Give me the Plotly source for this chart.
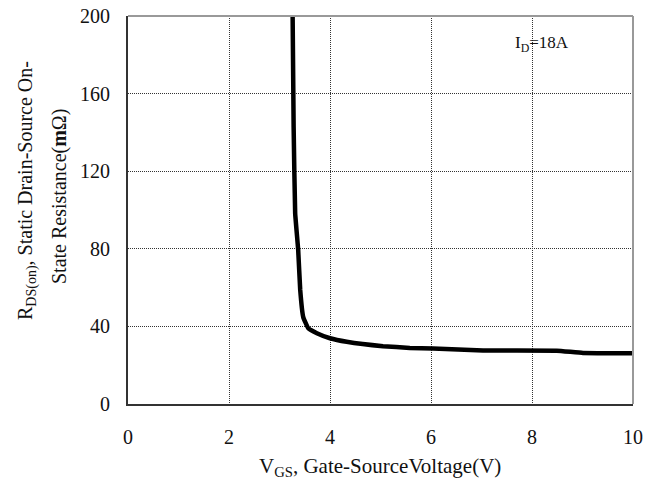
import plotly.graph_objects as go

vgs = [3.26, 3.28, 3.31, 3.37, 3.41, 3.47, 3.57, 3.74, 4.0, 4.33, 5.05, 5.58, 6.04, 7.03, 8.49, 9.01, 10.0]
rds = [200, 142.8, 98.4, 79.4, 58.8, 44.8, 39.0, 36.5, 33.9, 32.1, 29.8, 28.9, 28.6, 27.6, 27.5, 26.3, 26.2]
x_ticks = [0, 2, 4, 6, 8, 10]
y_ticks = [0, 40, 80, 120, 160, 200]

serif = "Liberation Serif, DejaVu Serif, serif"

L, R, T, B = 128, 12, 16, 75
W, H = 645, 479
pw, ph = W - L - R, H - T - B

def px(xp):
    return (xp - L) / pw

def py(yp):
    return (H - B - yp) / ph

fig = go.Figure()
fig.add_trace(go.Scatter(x=vgs, y=rds, mode="lines",
                         line=dict(color="black", width=4.5, shape="spline", smoothing=0.3),
                         showlegend=False, hoverinfo="skip"))

axis_common = dict(showgrid=True, gridcolor="#333", griddash="1px,1px", gridwidth=1,
                   zeroline=False, showline=True, linecolor="#333", linewidth=2,
                   ticks="", automargin=False,
                   tickfont=dict(family=serif, size=20, color="#111"))

fig.update_layout(
    width=W, height=H,
    margin=dict(l=L, r=R, t=T, b=B, autoexpand=False),
    paper_bgcolor="white", plot_bgcolor="white",
    font=dict(family=serif, size=18, color="#111"),
    xaxis=dict(range=[0, 10], tickvals=x_ticks, ticklabelstandoff=14, **axis_common),
    yaxis=dict(range=[0, 200], tickvals=y_ticks, ticklabelstandoff=12, **axis_common),
    shapes=[
        dict(type="line", xref="paper", yref="paper", x0=0, x1=1, y0=1, y1=1,
             line=dict(color="#999", width=2)),
        dict(type="line", xref="paper", yref="paper", x0=1, x1=1, y0=0, y1=1,
             line=dict(color="#999", width=2)),
    ],
    annotations=[
        dict(text="I<sub>D</sub>=18A", x=8.2, y=185.6, xref="x", yref="y",
             showarrow=False, font=dict(family=serif, size=17)),
        dict(text="V<sub>GS</sub>, Gate-SourceVoltage(V)", x=px(380), y=py(467),
             xref="paper", yref="paper", xanchor="center", yanchor="middle", showarrow=False,
             font=dict(family=serif, size=21)),
        dict(text="R<sub>DS(on)</sub>, Static Drain-Source On-",
             x=px(27), y=py(191), xref="paper", yref="paper", textangle=-90,
             xanchor="center", yanchor="middle",
             showarrow=False, font=dict(family=serif, size=20)),
        dict(text="State Resistance(<b>m</b>Ω)",
             x=px(59), y=py(197), xref="paper", yref="paper", textangle=-90,
             xanchor="center", yanchor="middle",
             showarrow=False, font=dict(family=serif, size=20)),
    ],
)

fig.write_html("out.html")
